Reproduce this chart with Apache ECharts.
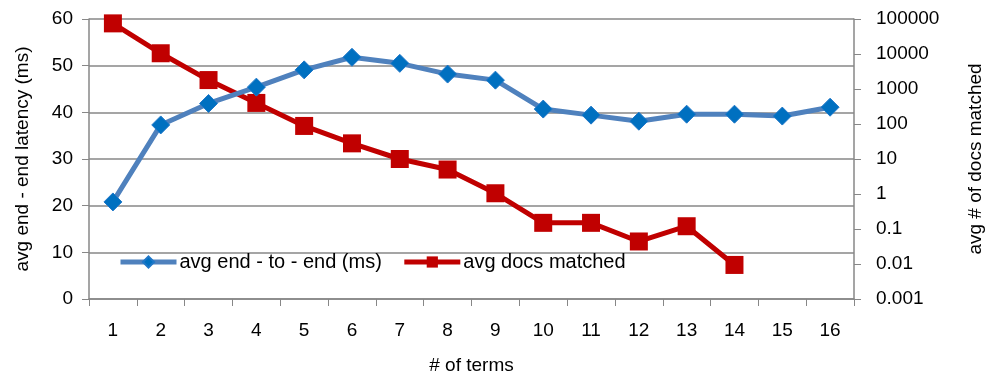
<!DOCTYPE html>
<html><head><meta charset="utf-8">
<script src="https://cdn.jsdelivr.net/npm/echarts@6/dist/echarts.min.js"></script>
<style>html,body{margin:0;padding:0;background:#fff}#c{width:989px;height:380px}</style>
</head><body><div id="c"></div>
<script>
const categories = ['1','2','3','4','5','6','7','8','9','10','11','12','13','14','15','16'];
const latency = [20.8, 37.3, 41.9, 45.4, 49.1, 51.8, 50.5, 48.2, 46.9, 40.7, 39.4, 38.1, 39.6, 39.6, 39.2, 41.1];
const docsMatched = [75000, 10500, 1800, 400, 88, 28, 10, 5, 1.05, 0.15, 0.15, 0.044, 0.12, 0.0094, null, null];
const leftTicks = [0, 10, 20, 30, 40, 50, 60];
const rightTicks = ['0.001','0.01','0.1','1','10','100','1000','10000','100000'];

const FONT = 'Liberation Sans';
const FS = 19;
const axisGray = '#878787';
const chart = echarts.init(document.getElementById('c'));
chart.setOption({
  animation: false,
  textStyle: { fontFamily: FONT },
  grid: { left: 89, right: 135, top: 19, bottom: 81, containLabel: false, outerBoundsMode: 'none' },
  legend: {
    left: 113, top: 247, itemWidth: 56, itemHeight: 14, itemGap: 20,
    textStyle: { fontFamily: FONT, fontSize: FS + 1, color: '#000', padding: [0, 0, 0, -2] },
    data: [
      { name: 'avg end - to - end (ms)', lineStyle: { width: 5, color: '#4F81BD' } },
      { name: 'avg docs matched', lineStyle: { width: 5, color: '#C00000' } }
    ]
  },
  xAxis: {
    type: 'category', data: categories, boundaryGap: true,
    name: '# of terms', nameLocation: 'middle', nameGap: 57,
    nameTextStyle: { fontFamily: FONT, fontSize: FS, color: '#000' },
    axisLine: { lineStyle: { color: axisGray, width: 1.5 } },
    axisTick: { show: true, length: 7, alignWithLabel: false, lineStyle: { color: axisGray } },
    axisLabel: { fontFamily: FONT, fontSize: FS, color: '#000', margin: 22 }
  },
  yAxis: [{
    type: 'value', min: leftTicks[0], max: leftTicks[leftTicks.length-1], interval: 10,
    name: 'avg end - end latency (ms)', nameLocation: 'middle', nameGap: 57, nameRotate: 90,
    nameTextStyle: { fontFamily: FONT, fontSize: FS, color: '#000' },
    axisLine: { show: true, lineStyle: { color: axisGray, width: 1.5 } },
    axisTick: { show: true, length: 7, lineStyle: { color: axisGray } },
    axisLabel: { fontFamily: FONT, fontSize: FS, color: '#000', margin: 16 },
    splitLine: { show: true, lineStyle: { color: axisGray, width: 1.5 } }
  }, {
    type: 'log', logBase: 10, min: Number(rightTicks[0]), max: Number(rightTicks[rightTicks.length-1]),
    name: 'avg # of docs matched', nameLocation: 'middle', nameGap: 112, nameRotate: 90,
    nameTextStyle: { fontFamily: FONT, fontSize: FS, color: '#000', padding: 0 },
    axisLine: { show: true, lineStyle: { color: axisGray, width: 1.5 } },
    axisTick: { show: true, length: 7, lineStyle: { color: axisGray } },
    axisLabel: { fontFamily: FONT, fontSize: FS, color: '#000', margin: 22,
      formatter: function (v) {
        const e = Math.round(Math.log10(v));
        const idx = e + 3;
        return rightTicks[idx] !== undefined ? rightTicks[idx] : String(v);
      } },
    splitLine: { show: false }
  }],
  series: [{
    name: 'avg end - to - end (ms)', type: 'line', yAxisIndex: 0, data: latency,
    symbol: 'diamond', symbolSize: 18,
    lineStyle: { color: '#4F81BD', width: 5 },
    itemStyle: { color: '#0070C0', borderColor: '#1F77C8', borderWidth: 1 },
    z: 3
  }, {
    name: 'avg docs matched', type: 'line', yAxisIndex: 1, data: docsMatched,
    symbol: 'rect', symbolSize: 18,
    lineStyle: { color: '#C00000', width: 5 },
    itemStyle: { color: '#C00000' },
    z: 2
  }]
});
</script></body></html>
